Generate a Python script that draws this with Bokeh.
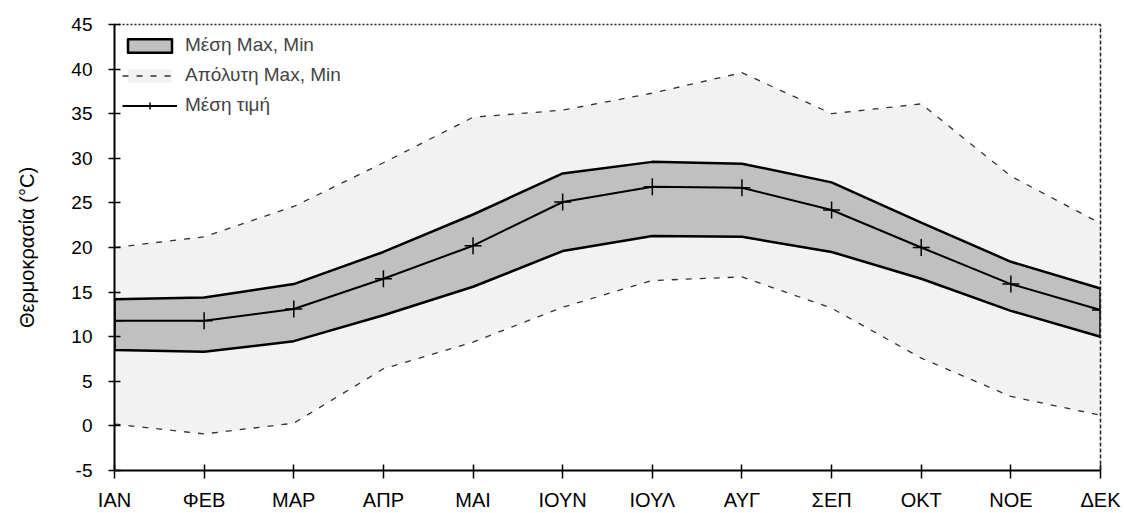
from bokeh.plotting import figure
from bokeh.models import (ColumnDataSource, Legend, LegendItem, LinearAxis,
                          FixedTicker, Range1d)
from bokeh.embed import file_html
from bokeh.resources import INLINE

# Monthly temperature statistics (°C)
months = ["ΙΑΝ", "ΦΕΒ", "ΜΑΡ", "ΑΠΡ", "ΜΑΙ", "ΙΟΥΝ", "ΙΟΥΛ", "ΑΥΓ", "ΣΕΠ", "ΟΚΤ", "ΝΟΕ", "ΔΕΚ"]
mean_max = [14.2, 14.4, 15.9, 19.5, 23.7, 28.3, 29.6, 29.4, 27.3, 22.8, 18.4, 15.4]
mean_min = [8.5, 8.3, 9.5, 12.4, 15.6, 19.6, 21.3, 21.2, 19.5, 16.5, 12.9, 10.0]
mean_val = [11.8, 11.8, 13.1, 16.5, 20.2, 25.1, 26.8, 26.7, 24.2, 20.0, 15.9, 13.0]
abs_max = [20.0, 21.2, 24.6, 29.5, 34.6, 35.4, 37.3, 39.6, 35.0, 36.1, 28.0, 22.7]
abs_min = [0.2, -0.9, 0.3, 6.4, 9.4, 13.3, 16.3, 16.7, 13.2, 7.6, 3.3, 1.2]
y_ticks = [-5, 0, 5, 10, 15, 20, 25, 30, 35, 40, 45]

FONT = "Liberation Sans"
xs = list(range(len(months)))

src = ColumnDataSource(dict(x=xs, mean_max=mean_max, mean_min=mean_min,
                            mean_val=mean_val, abs_max=abs_max, abs_min=abs_min))

p = figure(width=1124, height=513, output_backend="svg", toolbar_location=None,
           x_range=Range1d(0, 11), y_range=Range1d(-5, 45),
           min_border_left=114, min_border_right=24, min_border_top=24,
           min_border_bottom=40)
p.outline_line_color = None
p.grid.visible = False
p.background_fill_color = "white"

# light area between absolute extremes
abs_patch = p.patch(xs + xs[::-1], abs_max + abs_min[::-1],
                    fill_color="#ededed", fill_alpha=0.75, line_color=None)
abs_hi = p.line("x", "abs_max", source=src, line_color="#333333", line_width=1.3,
                line_dash="6 8")
abs_lo = p.line("x", "abs_min", source=src, line_color="#333333", line_width=1.3,
                line_dash="6 8")

# band between mean max and mean min
band = p.patch(xs + xs[::-1], mean_max + mean_min[::-1],
               fill_color="#c0c0c0", line_color="black", line_width=2.5,
               line_join="round")

# mean line with cross markers
mean_line = p.line("x", "mean_val", source=src, line_color="black", line_width=2)
mean_pts = p.scatter("x", "mean_val", source=src, marker="cross", size=17,
                     line_color="black", line_width=1.5)

# axes
p.xaxis.ticker = FixedTicker(ticks=xs)
p.xaxis.major_label_overrides = {i: m for i, m in enumerate(months)}
p.yaxis.ticker = FixedTicker(ticks=y_ticks)
p.yaxis.major_label_overrides = {t: str(t) for t in y_ticks}
for ax in (p.xaxis[0], p.yaxis[0]):
    ax.axis_line_color = "black"
    ax.axis_line_width = 2
    ax.major_tick_line_color = "black"
    ax.major_tick_line_width = 1.5
    ax.minor_tick_line_color = None
    ax.major_label_text_font = FONT
    ax.major_label_text_color = "black"
p.xaxis.major_label_text_font_size = "20px"
p.yaxis.major_label_text_font_size = "19px"
p.xaxis.major_tick_in = 6
p.xaxis.major_tick_out = 8
p.xaxis.major_label_standoff = 10
p.yaxis.major_tick_in = 6
p.yaxis.major_tick_out = 6
p.yaxis.major_label_standoff = 16
p.yaxis.axis_label = "Θερμοκρασία (°C)"
p.yaxis.axis_label_text_font = FONT
p.yaxis.axis_label_text_font_style = "normal"
p.yaxis.axis_label_text_font_size = "20px"
p.yaxis.axis_label_text_color = "black"
p.yaxis.axis_label_standoff = 30

top_ax = LinearAxis(ticker=FixedTicker(ticks=[]), major_label_text_font_size="0px",
                    axis_line_dash="2 2", axis_line_width=1.5, axis_line_color="#222222",
                    major_tick_line_color=None, minor_tick_line_color=None)
right_ax = LinearAxis(ticker=FixedTicker(ticks=[]), major_label_text_font_size="0px",
                      axis_line_dash="4 2", axis_line_width=1.5, axis_line_color="#222222",
                      major_tick_line_color=None, minor_tick_line_color=None)
p.add_layout(top_ax, "above")
p.add_layout(right_ax, "right")

legend = Legend(items=[
    LegendItem(label="Μέση Max, Min", renderers=[band]),
    LegendItem(label="Απόλυτη Max, Min", renderers=[abs_patch, abs_hi]),
    LegendItem(label="Μέση τιμή", renderers=[mean_line, mean_pts]),
], location="top_left")
legend.background_fill_alpha = 0
legend.border_line_color = None
legend.label_text_font = FONT
legend.label_text_font_size = "19px"
legend.glyph_width = 55
legend.glyph_height = 17
legend.label_height = 26
legend.spacing = 4
legend.label_standoff = 8
legend.margin = 8
legend.padding = 10
p.add_layout(legend)

open("out.html", "w").write(file_html(p, INLINE))
